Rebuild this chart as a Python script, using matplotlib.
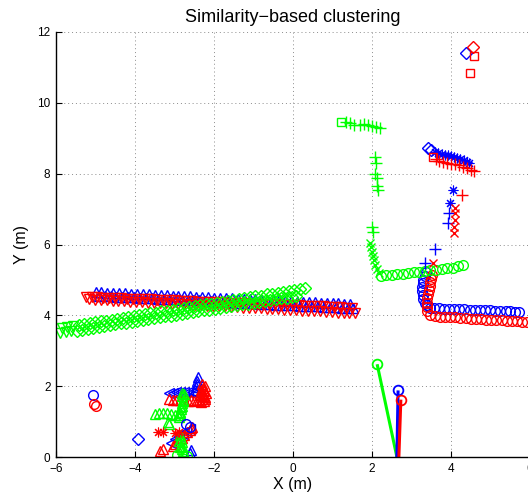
import matplotlib
matplotlib.use("Agg")
import matplotlib.pyplot as plt

# ---------------- data (metres) ----------------
# long tracks on the left: each band is two neighbouring tracks
blue_a_x = [-5.00, -4.85, -4.70, -4.55, -4.40, -4.25, -4.10, -3.95, -3.80, -3.65, -3.50,
            -3.35, -3.20, -3.05, -2.90, -2.75, -2.60, -2.45, -2.30, -2.15, -2.00, -1.85,
            -1.70, -1.55, -1.40, -1.25, -1.10, -0.95, -0.80, -0.65, -0.50, -0.35, -0.20,
            -0.05, 0.10, 0.25, 0.40, 0.55, 0.70, 0.85, 1.00, 1.15, 1.30, 1.45]
blue_a_y = [4.66, 4.65, 4.64, 4.64, 4.63, 4.62, 4.61, 4.61, 4.60, 4.59, 4.58,
            4.57, 4.57, 4.56, 4.55, 4.54, 4.54, 4.53, 4.52, 4.51, 4.50, 4.50,
            4.49, 4.48, 4.47, 4.46, 4.46, 4.45, 4.44, 4.43, 4.43, 4.42, 4.41,
            4.40, 4.39, 4.39, 4.38, 4.37, 4.36, 4.36, 4.35, 4.34, 4.33, 4.32]
blue_b_x = [-4.92, -4.77, -4.62, -4.47, -4.32, -4.17, -4.02, -3.87, -3.72, -3.57, -3.42,
            -3.27, -3.12, -2.97, -2.82, -2.67, -2.52, -2.37, -2.22, -2.07, -1.92, -1.77,
            -1.62, -1.47, -1.32, -1.17, -1.02, -0.87, -0.72, -0.57, -0.42, -0.27, -0.12,
            0.03, 0.18, 0.33, 0.48, 0.63, 0.78, 0.93, 1.08, 1.23, 1.38, 1.53]
blue_b_y = [4.56, 4.55, 4.54, 4.53, 4.52, 4.52, 4.51, 4.50, 4.49, 4.48, 4.47,
            4.47, 4.46, 4.45, 4.44, 4.43, 4.42, 4.42, 4.41, 4.40, 4.39, 4.38,
            4.37, 4.36, 4.36, 4.35, 4.34, 4.33, 4.32, 4.31, 4.30, 4.30, 4.29,
            4.28, 4.27, 4.26, 4.26, 4.25, 4.24, 4.23, 4.23, 4.22, 4.21, 4.21]

red_a_x = [-5.25, -5.10, -4.95, -4.80, -4.65, -4.50, -4.35, -4.20, -4.05, -3.90, -3.75,
           -3.60, -3.45, -3.30, -3.15, -3.00, -2.85, -2.70, -2.55, -2.40, -2.25, -2.10,
           -1.95, -1.80, -1.65, -1.50, -1.35, -1.20, -1.05, -0.90, -0.75, -0.60, -0.45,
           -0.30, -0.15, 0.00, 0.15, 0.30, 0.45, 0.60, 0.75, 0.90, 1.05, 1.20, 1.35, 1.50]
red_a_y = [4.52, 4.51, 4.51, 4.50, 4.49, 4.49, 4.48, 4.47, 4.47, 4.46, 4.45,
           4.45, 4.44, 4.43, 4.43, 4.42, 4.41, 4.41, 4.40, 4.39, 4.39, 4.38,
           4.37, 4.37, 4.36, 4.35, 4.35, 4.34, 4.33, 4.33, 4.32, 4.31, 4.31,
           4.30, 4.29, 4.28, 4.28, 4.27, 4.26, 4.26, 4.25, 4.24, 4.24, 4.23, 4.22, 4.22]
red_b_x = [-5.17, -5.02, -4.87, -4.72, -4.57, -4.42, -4.27, -4.12, -3.97, -3.82, -3.67,
           -3.52, -3.37, -3.22, -3.07, -2.92, -2.77, -2.62, -2.47, -2.32, -2.17, -2.02,
           -1.87, -1.72, -1.57, -1.42, -1.27, -1.12, -0.97, -0.82, -0.67, -0.52, -0.37,
           -0.22, -0.07, 0.08, 0.23, 0.38, 0.53, 0.68, 0.83, 0.98, 1.13, 1.28, 1.43, 1.58]
red_b_y = [4.45, 4.44, 4.43, 4.42, 4.41, 4.41, 4.40, 4.39, 4.38, 4.37, 4.36,
           4.35, 4.34, 4.34, 4.33, 4.32, 4.31, 4.30, 4.29, 4.28, 4.27, 4.27,
           4.26, 4.25, 4.24, 4.23, 4.22, 4.21, 4.20, 4.20, 4.19, 4.18, 4.17,
           4.16, 4.15, 4.14, 4.13, 4.13, 4.12, 4.11, 4.10, 4.09, 4.08, 4.07, 4.07, 4.06]

green_a_x = [-5.85, -5.71, -5.57, -5.43, -5.29, -5.15, -5.01, -4.87, -4.73, -4.59, -4.45,
             -4.31, -4.17, -4.03, -3.89, -3.75, -3.61, -3.47, -3.33, -3.19, -3.05, -2.91,
             -2.77, -2.63, -2.49, -2.35, -2.21, -2.07, -1.93, -1.79, -1.65, -1.51, -1.37,
             -1.23, -1.09, -0.95, -0.81, -0.67, -0.53, -0.39, -0.25, -0.11, 0.03, 0.17, 0.31]
green_a_y = [3.65, 3.68, 3.70, 3.73, 3.75, 3.78, 3.80, 3.83, 3.85, 3.88, 3.90,
             3.93, 3.95, 3.98, 4.00, 4.03, 4.06, 4.08, 4.11, 4.13, 4.16, 4.18,
             4.21, 4.23, 4.26, 4.28, 4.31, 4.33, 4.36, 4.38, 4.41, 4.44, 4.46,
             4.49, 4.51, 4.54, 4.56, 4.59, 4.61, 4.64, 4.66, 4.69, 4.71, 4.74, 4.77]
green_b_x = [-5.90, -5.76, -5.62, -5.48, -5.34, -5.20, -5.06, -4.92, -4.78, -4.64, -4.50,
             -4.36, -4.22, -4.08, -3.94, -3.80, -3.66, -3.52, -3.38, -3.24, -3.10, -2.96,
             -2.82, -2.68, -2.54, -2.40, -2.26, -2.12, -1.98, -1.84, -1.70, -1.56, -1.42,
             -1.28, -1.14, -1.00, -0.86, -0.72, -0.58, -0.44, -0.30, -0.16, -0.02, 0.08]
green_b_y = [3.50, 3.52, 3.55, 3.57, 3.60, 3.62, 3.65, 3.67, 3.70, 3.72, 3.75,
             3.77, 3.79, 3.82, 3.84, 3.87, 3.89, 3.92, 3.94, 3.97, 3.99, 4.01,
             4.04, 4.06, 4.09, 4.11, 4.14, 4.16, 4.19, 4.21, 4.24, 4.26, 4.28,
             4.31, 4.33, 4.36, 4.38, 4.41, 4.43, 4.46, 4.48, 4.50, 4.53, 4.55]

# tracks on the right
blue_circ_x = [3.36, 3.33, 3.30, 3.28, 3.27, 3.27, 3.28, 3.30, 3.33, 3.38, 3.46, 3.58, 3.70,
               3.82, 3.95, 4.08, 4.21, 4.34, 4.47, 4.60, 4.73, 4.86, 4.99, 5.12, 5.25, 5.38,
               5.50, 5.62, 5.72]
blue_circ_y = [5.22, 5.12, 5.01, 4.90, 4.79, 4.68, 4.57, 4.46, 4.36, 4.28, 4.22, 4.21, 4.20,
               4.19, 4.19, 4.18, 4.17, 4.17, 4.16, 4.15, 4.15, 4.14, 4.14, 4.13, 4.12, 4.12,
               4.11, 4.10, 4.10]
red_circ_x = [3.52, 3.50, 3.48, 3.46, 3.44, 3.42, 3.40, 3.38, 3.38, 3.40, 3.48, 3.60, 3.72,
              3.85, 3.98, 4.11, 4.24, 4.37, 4.50, 4.63, 4.76, 4.89, 5.02, 5.15, 5.28, 5.41,
              5.54, 5.67, 5.80, 5.93]
red_circ_y = [5.15, 5.04, 4.93, 4.82, 4.71, 4.60, 4.48, 4.36, 4.24, 4.12, 4.02, 3.97, 3.96,
              3.95, 3.94, 3.94, 3.93, 3.92, 3.91, 3.90, 3.89, 3.88, 3.87, 3.87, 3.86, 3.85,
              3.84, 3.83, 3.82, 3.81]
green_circ_x = [2.22, 2.36, 2.50, 2.64, 2.78, 2.92, 3.06, 3.20, 3.34, 3.48, 3.62, 3.76, 3.90,
                4.04, 4.17, 4.30]
green_circ_y = [5.12, 5.13, 5.15, 5.16, 5.18, 5.20, 5.21, 5.23, 5.25, 5.27, 5.29, 5.31, 5.33,
                5.35, 5.38, 5.41]
green_x_x = [1.95, 1.97, 1.99, 2.02, 2.05, 2.08, 2.12, 2.17]
green_x_y = [6.05, 5.92, 5.80, 5.67, 5.55, 5.42, 5.30, 5.20]
green_plus_x = [1.35, 1.45, 1.55, 1.70, 1.80, 1.90, 2.00, 2.10, 2.20,
                2.08, 2.10, 2.08, 2.12, 2.12, 2.15, 2.00, 2.02]
green_plus_y = [9.45, 9.42, 9.38, 9.37, 9.40, 9.38, 9.35, 9.32, 9.30,
                8.47, 8.30, 8.00, 7.88, 7.65, 7.55, 6.50, 6.35]
green_sq_x = [1.22]
green_sq_y = [9.45]

blue_star_x = [3.60, 3.68, 3.76, 3.84, 3.92, 4.00, 4.08, 4.16, 4.24, 4.32, 4.40, 4.45, 4.05, 3.97]
blue_star_y = [8.62, 8.58, 8.55, 8.53, 8.52, 8.50, 8.48, 8.45, 8.42, 8.38, 8.33, 8.30, 7.54, 7.18]
blue_diam_x = [3.42, 3.50, 4.38, -3.92]
blue_diam_y = [8.73, 8.68, 11.41, 0.50]
blue_plus_x = [3.95, 3.92, 3.60, 3.34]
blue_plus_y = [6.89, 6.61, 5.87, 5.48]
red_plus_x = [3.62, 3.70, 3.80, 3.90, 4.00, 4.10, 4.20, 4.30, 4.40, 4.50, 4.58, 4.28]
red_plus_y = [8.42, 8.36, 8.32, 8.30, 8.28, 8.26, 8.24, 8.20, 8.15, 8.10, 8.08, 7.40]
red_sq_x = [3.55, 4.58, 4.48]
red_sq_y = [8.47, 11.33, 10.85]
red_diam_x = [4.56]
red_diam_y = [11.58]
red_x_x = [4.10, 4.10, 4.10, 4.08, 4.08, 3.55]
red_x_y = [7.03, 6.89, 6.69, 6.50, 6.33, 5.48]

# short segments near x = 2.6 (start point, end point)
seg_green_x = [2.13, 2.63]
seg_green_y = [2.62, 0.00]
seg_blue_x = [2.66, 2.63]
seg_blue_y = [1.88, 0.00]
seg_red_x = [2.73, 2.68]
seg_red_y = [1.62, 0.00]

# group in the lower left
bl_blue_circ_x = [-5.06, -2.72, -2.62]
bl_blue_circ_y = [1.75, 0.92, 0.85]
bl_red_circ_x = [-5.04, -5.00]
bl_red_circ_y = [1.50, 1.44]
bl_blue_tri_x = [-2.40, -2.42, -2.44, -2.45, -2.47, -2.60, -2.58]
bl_blue_tri_y = [2.25, 2.15, 2.05, 1.97, 1.90, 0.12, 0.20]
bl_blue_left_x = [-3.15, -3.05, -2.95, -2.85, -2.75, -2.65, -2.55, -2.48,
                  -3.08, -2.98, -2.88, -2.78, -2.70, -2.62]
bl_blue_left_y = [1.80, 1.82, 1.83, 1.84, 1.84, 1.83, 1.83, 1.82,
                  0.40, 0.50, 0.58, 0.66, 0.74, 0.80]
bl_red_tri_x = [-2.30, -2.28, -2.25, -2.32, -2.27, -2.24, -2.35, -2.30, -2.26, -2.38, -2.33,
                -2.42, -2.50, -2.58, -2.22, -2.25, -2.28, -2.21, -2.24,
                -3.15, -3.05, -2.95, -2.85, -2.75, -2.65,
                -3.05, -2.98, -2.90, -2.82, -2.75, -2.68, -2.62, -2.58, -2.55, -3.38, -3.28]
bl_red_tri_y = [2.05, 1.95, 1.85, 1.90, 1.78, 1.70, 1.75, 1.65, 1.58, 1.62, 1.55,
                1.60, 1.58, 1.62, 2.00, 1.88, 1.72, 1.80, 1.64,
                1.65, 1.62, 1.62, 1.60, 1.60, 1.58,
                0.30, 0.38, 0.46, 0.54, 0.62, 0.70, 0.76, 0.82, 0.86, 0.18, 0.22]
bl_green_tri_x = [-2.82, -2.80, -2.78, -2.80, -2.82, -2.84, -2.85, -2.87, -2.88,
                  -2.76, -2.79, -2.83, -2.86,
                  -3.50, -3.40, -3.30, -3.20, -3.10, -3.00, -2.92, -3.16, -3.14,
                  -2.85, -2.83, -2.82, -2.80, -2.80, -2.78, -2.76, -2.88, -2.86]
bl_green_tri_y = [1.82, 1.72, 1.62, 1.52, 1.44, 1.36, 1.28, 1.20, 1.12,
                  1.77, 1.57, 1.40, 1.24,
                  1.22, 1.24, 1.25, 1.24, 1.22, 1.20, 1.18, 1.00, 0.92,
                  0.62, 0.52, 0.42, 0.32, 0.24, 0.16, 0.10, 0.45, 0.28]
bl_red_star_x = [-3.43, -3.30, -3.00, -2.88]
bl_red_star_y = [0.70, 0.70, 0.68, 0.72]
bl_green_circ_x = [-2.94, -2.68]
bl_green_circ_y = [0.06, 0.04]

x_ticks = [-6, -4, -2, 0, 2, 4, 6]
y_ticks = [0, 2, 4, 6, 8, 10, 12]

BLUE, RED, GREEN = (0, 0, 1), (1, 0, 0), (0, 1, 0)
ASTERISK = (8, 2, 0)   # '+' and 'x' overlaid

plt.rcParams['font.family'] = ['Liberation Sans', 'DejaVu Sans']
fig = plt.figure(figsize=(5.28, 4.93), dpi=100)
ax = fig.add_axes([0.1061, 0.0730, 0.8977, 0.8621])


def mark(x, y, color, marker, ms=7, mew=1.0):
    ax.plot(x, y, linestyle='none', marker=marker, markersize=ms,
            markerfacecolor='none', markeredgecolor=color, markeredgewidth=mew)


# left bands (blue under red, green on top)
mark(blue_a_x, blue_a_y, BLUE, '^')
mark(blue_b_x, blue_b_y, BLUE, '^')
mark(red_a_x, red_a_y, RED, 'v')
mark(red_b_x, red_b_y, RED, 'v')
mark(green_a_x[:3], green_a_y[:3], GREEN, 'v')
mark(green_a_x[3:], green_a_y[3:], GREEN, 'D', ms=6)
mark(green_b_x[:3], green_b_y[:3], GREEN, 'v')
mark(green_b_x[3:], green_b_y[3:], GREEN, 'D', ms=6)

# right tracks
mark(blue_circ_x, blue_circ_y, BLUE, 'o')
mark(red_circ_x, red_circ_y, RED, 'o')
mark(green_circ_x, green_circ_y, GREEN, 'o')
mark(green_x_x, green_x_y, GREEN, 'x', ms=6)
mark(green_plus_x, green_plus_y, GREEN, '+', ms=8)
mark(green_sq_x, green_sq_y, GREEN, 's', ms=6)
mark(blue_star_x, blue_star_y, BLUE, ASTERISK, ms=7, mew=0.8)
mark(blue_diam_x, blue_diam_y, BLUE, 'D', ms=6)
mark(blue_plus_x, blue_plus_y, BLUE, '+', ms=8)
mark(red_plus_x, red_plus_y, RED, '+', ms=8)
mark(red_sq_x, red_sq_y, RED, 's', ms=6)
mark(red_diam_x, red_diam_y, RED, 'D', ms=6)
mark(red_x_x, red_x_y, RED, 'x', ms=6)

# short segments with a circle at the start point
for sx, sy, c in [(seg_green_x, seg_green_y, GREEN), (seg_blue_x, seg_blue_y, BLUE),
                  (seg_red_x, seg_red_y, RED)]:
    ax.plot(sx, sy, color=c, linewidth=2.2, solid_capstyle='butt')
    mark(sx[:1], sy[:1], c, 'o', mew=1.3)

# lower-left group
mark(bl_blue_tri_x, bl_blue_tri_y, BLUE, '^')
mark(bl_blue_left_x, bl_blue_left_y, BLUE, '<')
mark(bl_red_tri_x, bl_red_tri_y, RED, '^')
mark(bl_green_tri_x, bl_green_tri_y, GREEN, '^')
mark(bl_red_star_x, bl_red_star_y, RED, ASTERISK, ms=7, mew=0.8)
mark(bl_blue_circ_x, bl_blue_circ_y, BLUE, 'o')
mark(bl_red_circ_x, bl_red_circ_y, RED, 'o')
mark(bl_green_circ_x, bl_green_circ_y, GREEN, 'o')

# axes styling
ax.set_xlim(-6, 6)
ax.set_ylim(0, 12)
ax.set_xticks(x_ticks)
ax.set_yticks(y_ticks)
ax.tick_params(direction='in', length=4, width=0.8, labelsize=8.5, pad=4)
for side in ('top', 'right'):
    ax.spines[side].set_visible(False)
for side in ('left', 'bottom'):
    ax.spines[side].set_linewidth(1.0)
ax.grid(True, linestyle=(0, (1, 3)), color='#8c8c8c', linewidth=0.7)
ax.set_axisbelow(True)

ax.set_title('Similarity\u2212based clustering', fontsize=13, pad=7)
ax.set_xlabel('X (m)', fontsize=11.5, labelpad=2)
ax.set_ylabel('Y (m)', fontsize=11.5, labelpad=6)

fig.savefig('out.png', dpi=100)
